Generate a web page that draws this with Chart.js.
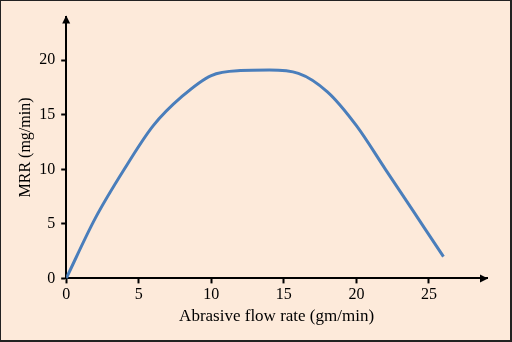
<!DOCTYPE html>
<html>
<head>
<meta charset="utf-8">
<script src="https://cdn.jsdelivr.net/npm/chart.js@4"></script>
<style>
  html, body { margin: 0; padding: 0; background: #FDEADA; }
  #wrap { width: 512px; height: 342px; box-sizing: border-box; border: 1px solid #222; border-right-width: 2px; border-bottom-width: 2px; }
</style>
</head>
<body>
<div id="wrap"><canvas id="myChart" width="509" height="339"></canvas></div>
<script>
const flowRate = [0, 2, 4, 6, 8, 10, 12, 14, 16, 18, 20, 22, 24, 26];
const mrr = [0, 5.5, 10.0, 14.0, 16.7, 18.6, 19.05, 19.1, 18.8, 17.1, 14.0, 10.0, 6.0, 2.0];
const xTicks = [0, 5, 10, 15, 20, 25];
const yTicks = [0, 5, 10, 15, 20];

const font = { family: 'Liberation Serif', size: 16 };

// draws the arrow heads at the end of both axes
const arrows = {
  id: 'arrows',
  afterDraw(chart) {
    const ctx = chart.ctx;
    const a = chart.chartArea;
    ctx.save();
    ctx.fillStyle = '#000';
    ctx.beginPath();
    ctx.moveTo(a.left, a.top - 1);
    ctx.lineTo(a.left - 4, a.top + 7);
    ctx.lineTo(a.left + 4, a.top + 7);
    ctx.closePath();
    ctx.fill();
    ctx.beginPath();
    ctx.moveTo(a.right + 1, a.bottom);
    ctx.lineTo(a.right - 7, a.bottom - 4);
    ctx.lineTo(a.right - 7, a.bottom + 4);
    ctx.closePath();
    ctx.fill();
    ctx.restore();
  }
};

const config = {
  type: 'line',
  data: {
    datasets: [{
      data: flowRate.map((x, i) => ({ x: x, y: mrr[i] })),
      borderColor: '#4A7EBB',
      borderWidth: 3,
      pointRadius: 0,
      cubicInterpolationMode: 'monotone',
      fill: false
    }]
  },
  options: {
    responsive: false,
    animation: false,
    layout: { padding: { top: 14, right: 23, left: 17, bottom: 13 } },
    plugins: { legend: { display: false }, tooltip: { enabled: false } },
    scales: {
      x: {
        type: 'linear',
        min: 0,
        max: 29,
        afterBuildTicks: s => { s.ticks = xTicks.map(v => ({ value: v })); },
        ticks: { color: '#000', font: font, padding: 2, maxRotation: 0 },
        grid: { drawOnChartArea: false, tickLength: 5, tickColor: '#000', tickWidth: 2 },
        border: { color: '#000', width: 2 },
        title: { display: true, text: 'Abrasive flow rate (gm/min)', color: '#000', font: { family: 'Liberation Serif', size: 17 }, padding: 0 }
      },
      y: {
        min: 0,
        max: 24,
        afterBuildTicks: s => { s.ticks = yTicks.map(v => ({ value: v })); },
        ticks: { color: '#000', font: font, padding: 6 },
        grid: { drawOnChartArea: false, tickLength: 5, tickColor: '#000', tickWidth: 2 },
        border: { color: '#000', width: 2 },
        title: { display: true, text: 'MRR (mg/min)', color: '#000', font: { family: 'Liberation Serif', size: 16 }, padding: -2 }
      }
    }
  },
  plugins: [arrows]
};

var myChart = new Chart(document.getElementById('myChart'), config);
</script>
</body>
</html>
